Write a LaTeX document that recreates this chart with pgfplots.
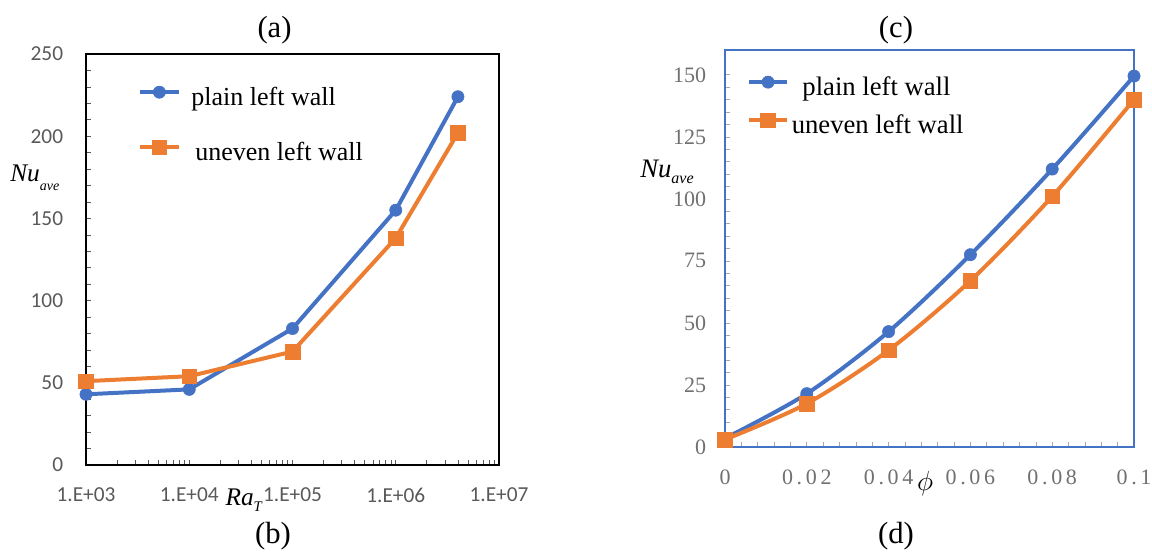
\documentclass[border=0pt]{standalone}
\usepackage{fontspec}
\setmainfont{Liberation Serif}
\newfontfamily\calibri{Carlito}
\usepackage{pgfplots}
\pgfplotsset{compat=1.18}
\definecolor{xblue}{HTML}{4472C4}
\definecolor{xorange}{HTML}{ED7D31}
\definecolor{tickgray}{HTML}{595959}
\definecolor{tickgrayb}{HTML}{707070}
\definecolor{ticklight}{HTML}{A6A6A6}
\begin{document}
\begin{tikzpicture}
\path[use as bounding box] (0,0) rectangle (864pt,417pt);
% ---------------- left panel ----------------
\begin{axis}[
  scale only axis, width=309.75pt, height=308.25pt,
  at={(64.5pt,68.25pt)}, anchor=south west,
  clip=false,
  xmode=log, xmin=1e3, xmax=1e7,
  xtick={1e3,1e4,1e5,1e6,1e7},
  xticklabels={1.E+03,1.E+04,1.E+05,1.E+06,1.E+07},
  ymin=0, ymax=250, ytick={0,50,...,250}, minor y tick num=4,
  axis line style={black, line width=1.5pt},
  tick pos=left, tick align=inside,
  major tick length=4pt, minor tick length=4pt,
  tick style={tickgray, line width=0.5pt},
  tick label style={font=\calibri\fontsize{16}{18}\selectfont, text=tickgray, inner sep=0pt},
  /pgf/number format/assume math mode=true,
  yticklabel shift=17pt, xticklabel shift=17pt,
  legend cell align=left,
  legend style={draw=none, fill=none, at={(0.126,0.922)}, anchor=north west,
    inner sep=0pt, outer sep=0pt, row sep=21.75pt, column sep=8pt,
    font=\fontsize{19.5}{20}\selectfont,
    nodes={inner sep=0pt, text height=14pt, text depth=4pt}},
  legend image code/.code={\draw[mark repeat=2,mark phase=2] plot coordinates {(0pt,5pt)(14.5pt,5pt)(29pt,5pt)};},
]
\addplot[xblue, line width=3pt, mark=*, mark size=4.6pt, mark options={line width=0.4pt}]
  coordinates {(1e3,43)(1e4,46)(1e5,83)(1e6,155)(4e6,224)};
\addlegendentry{plain left wall}
\addplot[xorange, line width=3pt, mark=square*, mark size=5.5pt, mark options={line width=0.4pt}]
  coordinates {(1e3,51)(1e4,54)(1e5,69)(1e6,138)(4e6,202)};
\addlegendentry{\hspace{3pt}uneven left wall}
\end{axis}
% ---------------- right panel ----------------
\begin{axis}[
  scale only axis, width=306.75pt, height=297.75pt,
  at={(543.75pt,81.75pt)}, anchor=south west,
  clip=false,
  xmin=0, xmax=0.1, ymin=0, ymax=160,
  xtick={0,0.02,0.04,0.06,0.08,0.1},
  xticklabels={0,0\,.\,0\,2,0\,.\,0\,4,0\,.\,0\,6,0\,.\,0\,8,0\,.\,1},
  ytick={0,25,...,150}, minor x tick num=4, minor y tick num=4,
  axis line style={xblue, line width=1.5pt},
  tick pos=left, tick align=inside,
  major tick length=4pt, minor tick length=4pt,
  tick style={ticklight, line width=0.5pt},
  tick label style={font=\fontsize{16.5}{18}\selectfont, text=tickgrayb, inner sep=0pt},
  /pgf/number format/assume math mode=true,
  yticklabel shift=14pt, xticklabel shift=17pt,
  legend cell align=left,
  legend style={draw=none, fill=none, at={(0.054,0.9345)}, anchor=north west,
    inner sep=0pt, outer sep=0pt, row sep=9pt, column sep=2pt,
    font=\fontsize{20}{20}\selectfont,
    nodes={inner sep=0pt, text height=14pt, text depth=4pt}},
  legend image code/.code={\draw[mark repeat=2,mark phase=2] plot coordinates {(0pt,5pt)(14.25pt,5pt)(28.5pt,5pt)};},
]
\addplot[xblue, line width=3pt, smooth, mark=*, mark size=4.6pt, mark options={line width=0.4pt}]
  coordinates {(0,3.5)(0.02,21.5)(0.04,46.5)(0.06,77.5)(0.08,112)(0.1,149.5)};
\addlegendentry{\hspace{8pt}plain left wall}
\addplot[xorange, line width=3pt, smooth, mark=square*, mark size=5.5pt, mark options={line width=0.4pt}]
  coordinates {(0,3)(0.02,17.5)(0.04,39)(0.06,67)(0.08,101)(0.1,140)};
\addlegendentry{uneven left wall}
\end{axis}
% ---------------- texts ----------------
\node[font=\fontsize{23}{23}\selectfont] at (205.9pt,394.5pt) {(a)};
\node[font=\fontsize{23}{23}\selectfont] at (204.75pt,15pt) {(b)};
\node[font=\fontsize{23}{23}\selectfont] at (672pt,394.5pt) {(c)};
\node[font=\fontsize{23}{23}\selectfont] at (672pt,15pt) {(d)};
\node[anchor=base west, inner sep=0pt, font=\fontsize{19}{19}\selectfont\itshape] at (7.5pt,281pt)
  {Nu\raisebox{-7pt}{\fontsize{10.5}{10.5}\selectfont ave}};
\node[anchor=base west, inner sep=0pt, font=\fontsize{20}{20}\selectfont\itshape] at (480pt,284pt)
  {Nu\raisebox{-5pt}{\fontsize{12}{12}\selectfont ave}};
\node[anchor=base west, inner sep=0pt, font=\fontsize{19}{19}\selectfont\itshape] at (169pt,37.5pt)
  {Ra\raisebox{-4.5pt}{\fontsize{11}{11}\selectfont T}};
\node[inner sep=0pt, font=\fontsize{21}{21}\selectfont] at (693.75pt,54pt) {$\phi$};
\end{tikzpicture}
\end{document}
